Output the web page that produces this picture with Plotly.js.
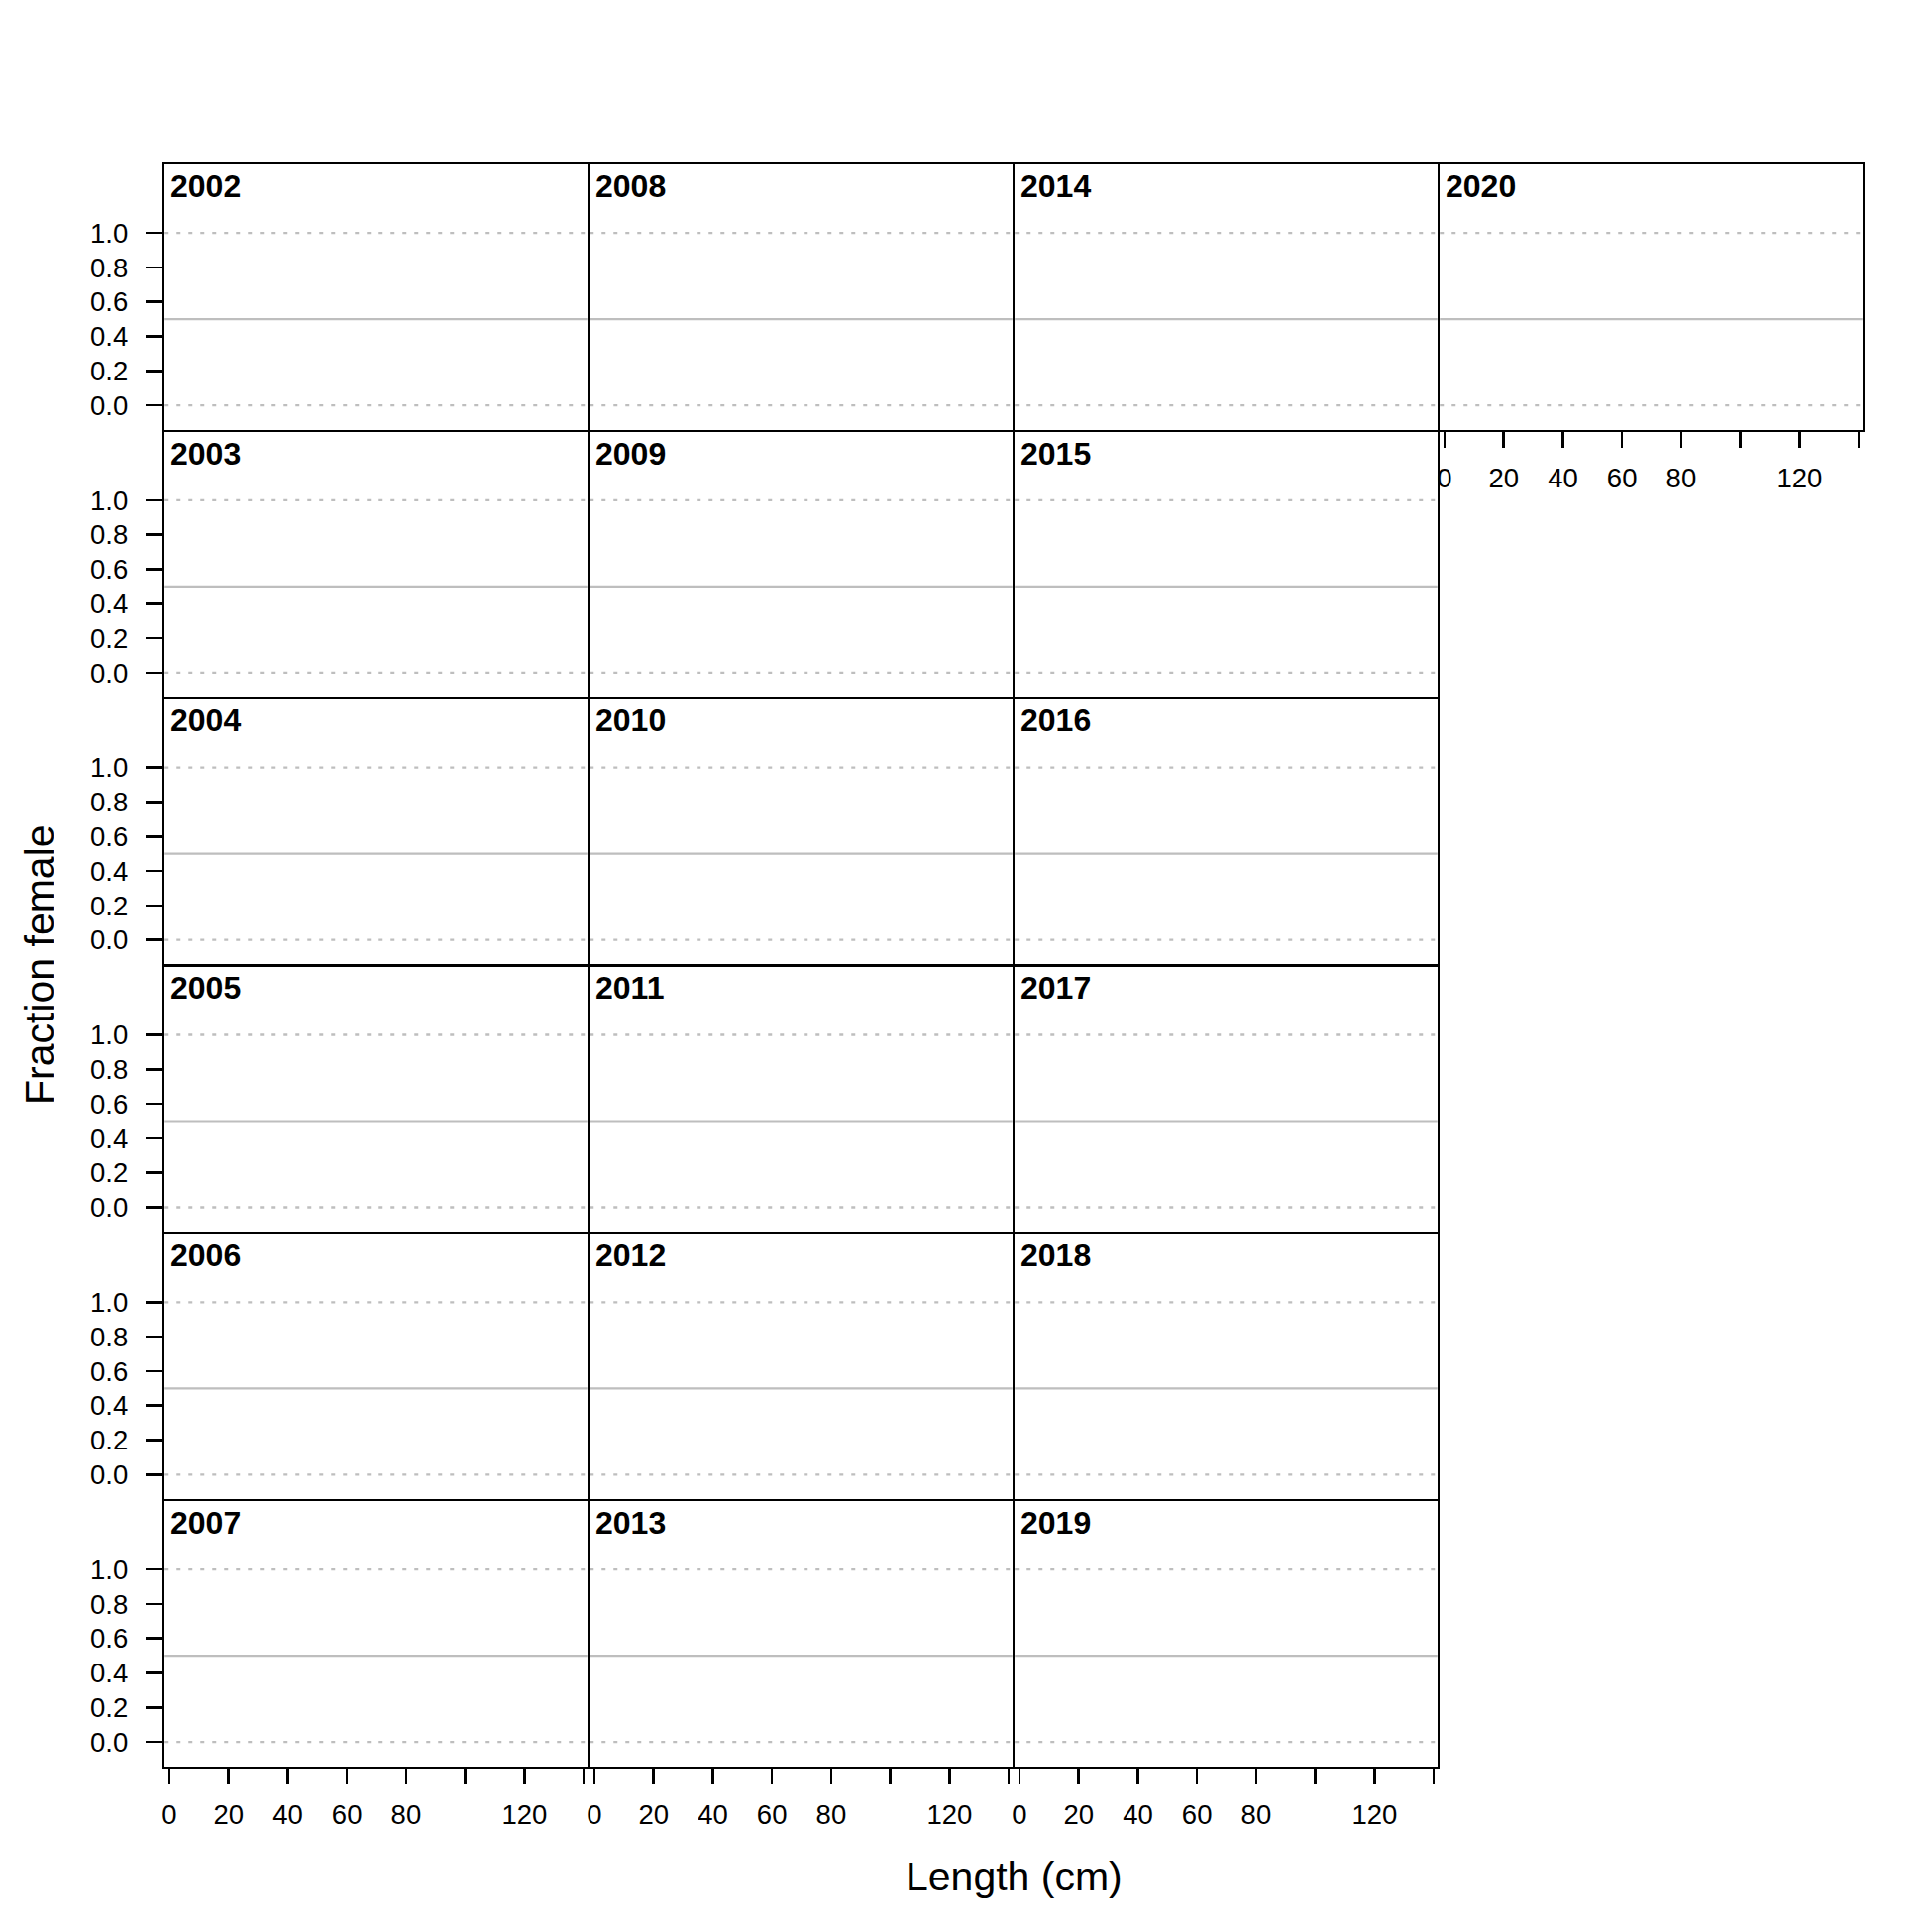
<!DOCTYPE html>
<html>
<head>
<meta charset="utf-8">
<script src="https://cdn.plot.ly/plotly-3.0.1.min.js"></script>
<style>html,body{margin:0;padding:0;background:#fff;}#chart{width:1950px;height:1950px;}</style>
</head>
<body>
<div id="chart"></div>
<script>
// ---- data ----
const years = [2002, 2003, 2004, 2005, 2006, 2007,
               2008, 2009, 2010, 2011, 2012, 2013,
               2014, 2015, 2016, 2017, 2018, 2019,
               2020];
const lengthTicks = [0, 20, 40, 60, 80, 100, 120, 140];
const lengthTickLabels = ['0', '20', '40', '60', '80', '', '120', ''];
const fracTicks = [0, 0.2, 0.4, 0.6, 0.8, 1.0];
const fracTickLabels = ['0.0', '0.2', '0.4', '0.6', '0.8', '1.0'];
const refSolid = [0.5];
const refDotted = [0, 1];
const xTitle = 'Length (cm)';
const yTitle = 'Fraction female';

// ---- layout geometry (pixels) ----
const W = 1950, H = 1950;
const left0 = 165, colW = 429, top0 = 165, rowH = 269.8, rowsPerCol = 6;
const LW = 2.5, half = LW / 2;
const xZeroOff = 6, xPx = 2.986;      // px offset of length 0 from panel left, px per cm
const yZeroOff = 25.7, yPx = 174;     // px offset of fraction 0 above panel bottom, px per unit
const FONT = 'Liberation Sans, Arial, sans-serif';
const grey = '#bebebe';

const xRange = [(half - xZeroOff) / xPx, (colW - half - xZeroOff) / xPx];
const yRange = [(half - yZeroOff) / yPx, (rowH - half - yZeroOff) / yPx];

const traces = [];
const layout = {
  width: W, height: H,
  margin: {l: 0, r: 0, t: 0, b: 0},
  paper_bgcolor: '#fff', plot_bgcolor: '#fff',
  showlegend: false,
  shapes: [], annotations: [],
  font: {family: FONT, color: '#000'}
};

years.forEach((yr, i) => {
  const c = Math.floor(i / rowsPerCol), r = i % rowsPerCol;
  const n = i + 1;
  const xa = 'xaxis' + (n === 1 ? '' : n), ya = 'yaxis' + (n === 1 ? '' : n);
  const xid = 'x' + (n === 1 ? '' : n), yid = 'y' + (n === 1 ? '' : n);
  const isLastInCol = (r === rowsPerCol - 1) || (i === years.length - 1);
  const isFirstCol = c === 0;
  const x0 = left0 + colW * c + half, x1 = left0 + colW * (c + 1) - half;
  const yt = top0 + rowH * r + half, yb = top0 + rowH * (r + 1) - half;

  traces.push({x: [], y: [], xaxis: xid, yaxis: yid, type: 'scatter', mode: 'lines', hoverinfo: 'skip'});

  layout[xa] = {
    domain: [x0 / W, x1 / W], range: xRange, anchor: yid,
    showline: true, linecolor: '#000', linewidth: LW, mirror: true,
    showgrid: false, zeroline: false, fixedrange: true,
    tickmode: 'array', tickvals: lengthTicks, ticktext: lengthTickLabels,
    ticks: isLastInCol ? 'outside' : '', ticklen: 16, tickwidth: 2.5, tickcolor: '#000',
    showticklabels: isLastInCol, ticklabelstandoff: 7,
    tickfont: {family: FONT, size: 27.5, color: '#000'}
  };
  layout[ya] = {
    domain: [1 - yb / H, 1 - yt / H], range: yRange, anchor: xid,
    showline: true, linecolor: '#000', linewidth: LW, mirror: true,
    showgrid: false, zeroline: false, fixedrange: true,
    tickmode: 'array', tickvals: fracTicks, ticktext: fracTickLabels,
    ticks: isFirstCol ? 'outside' : '', ticklen: 17, tickwidth: 2.5, tickcolor: '#000',
    showticklabels: isFirstCol, ticklabelstandoff: 12,
    tickfont: {family: FONT, size: 27.5, color: '#000'}
  };

  refDotted.forEach(v => layout.shapes.push({
    type: 'line', layer: 'below', xref: xid + ' domain', yref: yid,
    x0: 0, x1: 1, y0: v, y1: v,
    line: {color: grey, width: 2.3, dash: '4px,8px'}
  }));
  refSolid.forEach(v => layout.shapes.push({
    type: 'line', layer: 'below', xref: xid + ' domain', yref: yid,
    x0: 0, x1: 1, y0: v, y1: v,
    line: {color: grey, width: 2.2}
  }));

  layout.annotations.push({
    text: '<b>' + yr + '</b>', showarrow: false,
    xref: xid + ' domain', yref: yid + ' domain', x: 0, y: 1,
    xanchor: 'left', yanchor: 'top', xshift: 5, yshift: -2.5, borderpad: 0,
    font: {family: FONT, size: 32, color: '#000'}
  });
});

layout.annotations.push({
  text: xTitle, showarrow: false, xref: 'paper', yref: 'paper',
  x: 1023 / W, y: 1 - 1894 / H, xanchor: 'center', yanchor: 'middle',
  font: {family: FONT, size: 41, color: '#000'}
});
layout.annotations.push({
  text: yTitle, showarrow: false, xref: 'paper', yref: 'paper', textangle: -90,
  x: 40 / W, y: 1 - 974 / H, xanchor: 'center', yanchor: 'middle',
  font: {family: FONT, size: 41, color: '#000'}
});

Plotly.newPlot('chart', traces, layout, {displayModeBar: false, staticPlot: true});
</script>
</body>
</html>
